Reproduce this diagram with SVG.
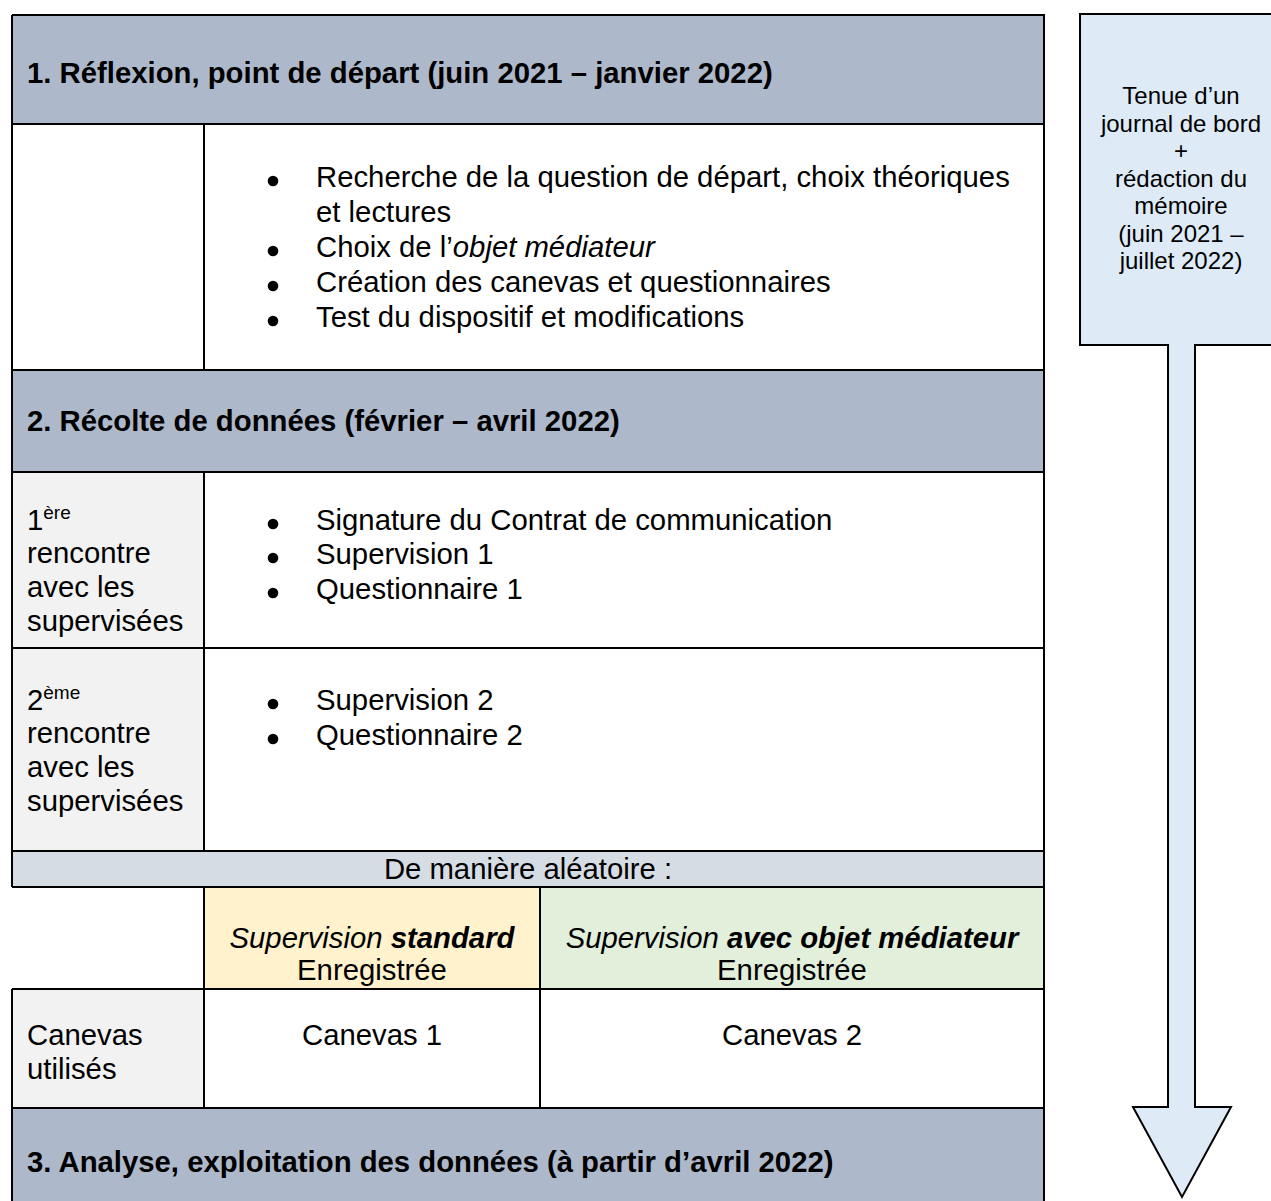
<svg xmlns="http://www.w3.org/2000/svg" width="1271" height="1201" viewBox="0 0 1271 1201">
<style>
text{font-family:"Liberation Sans",Arial,sans-serif;fill:#000}
.h{font-size:29.3px;font-weight:bold}
.b{font-size:29.3px}
.sup{font-size:19px}
.a{font-size:24px;text-anchor:middle}
.c{text-anchor:middle}
.ln{stroke:#000;stroke-width:2;fill:none}
.hdr{fill:#adb9ca}
.gray{fill:#f2f2f2}
.blt{fill:#000}
</style>
<rect width="1271" height="1201" fill="#fff"/>

<g id="timeline-arrow">
<polygon points="1080,14 1283,14 1283,345 1195,345 1195,1107 1231,1107 1182,1197 1133,1107 1168,1107 1168,345 1080,345" fill="#deebf7" stroke="#000" stroke-width="2"/>
<text class="a" x="1181" y="104">Tenue d’un</text>
<text class="a" x="1181" y="131.5">journal de bord</text>
<text class="a" x="1181" y="159">+</text>
<text class="a" x="1181" y="186.5">rédaction du</text>
<text class="a" x="1181" y="214">mémoire</text>
<text class="a" x="1181" y="241.5"> (juin 2021 –</text>
<text class="a" x="1181" y="269">juillet 2022)</text>
</g>

<g id="phase1-header">
<rect class="hdr" x="12" y="15" width="1032" height="109"/>
<text class="h" x="27" y="83">1. Réflexion, point de départ (juin 2021 – janvier 2022)</text>
</g>

<g id="phase1-tasks">
<circle class="blt" cx="273" cy="181" r="5.3"/>
<circle class="blt" cx="273" cy="251" r="5.3"/>
<circle class="blt" cx="273" cy="286" r="5.3"/>
<circle class="blt" cx="273" cy="321" r="5.3"/>
<text class="b" x="316" y="187">Recherche de la question de départ, choix théoriques</text>
<text class="b" x="316" y="222">et lectures</text>
<text class="b" x="316" y="257">Choix de l’<tspan font-style="italic">objet médiateur</tspan></text>
<text class="b" x="316" y="292">Création des canevas et questionnaires</text>
<text class="b" x="316" y="327">Test du dispositif et modifications</text>
</g>

<g id="phase2-header">
<rect class="hdr" x="12" y="370" width="1032" height="102"/>
<text class="h" x="27" y="431">2. Récolte de données (février – avril 2022)</text>
</g>

<g id="meeting1-label">
<rect class="gray" x="12" y="472" width="192" height="176"/>
<text class="b" x="27" y="530">1<tspan class="sup" dy="-11">ère</tspan></text>
<text class="b" x="27" y="563">rencontre</text>
<text class="b" x="27" y="597">avec les</text>
<text class="b" x="27" y="631">supervisées</text>
</g>

<g id="meeting1-tasks">
<circle class="blt" cx="273" cy="524" r="5.3"/>
<circle class="blt" cx="273" cy="558" r="5.3"/>
<circle class="blt" cx="273" cy="593" r="5.3"/>
<text class="b" x="316" y="530">Signature du Contrat de communication</text>
<text class="b" x="316" y="564">Supervision 1</text>
<text class="b" x="316" y="599">Questionnaire 1</text>
</g>

<g id="meeting2-label">
<rect class="gray" x="12" y="648" width="192" height="203"/>
<text class="b" x="27" y="710">2<tspan class="sup" dy="-11">ème</tspan></text>
<text class="b" x="27" y="743">rencontre</text>
<text class="b" x="27" y="777">avec les</text>
<text class="b" x="27" y="811">supervisées</text>
</g>

<g id="meeting2-tasks">
<circle class="blt" cx="273" cy="704" r="5.3"/>
<circle class="blt" cx="273" cy="739" r="5.3"/>
<text class="b" x="316" y="710">Supervision 2</text>
<text class="b" x="316" y="745">Questionnaire 2</text>
</g>

<g id="random-row">
<rect fill="#d6dce4" x="12" y="851" width="1032" height="36"/>
<text class="b c" x="528" y="879">De manière aléatoire :</text>
</g>

<g id="standard-supervision">
<rect fill="#fff2cc" x="204" y="887" width="336" height="102"/>
<text class="b c" x="372" y="948"><tspan font-style="italic">Supervision </tspan><tspan font-style="italic" font-weight="bold">standard</tspan></text>
<text class="b c" x="372" y="980">Enregistrée</text>
</g>

<g id="mediator-supervision">
<rect fill="#e2efda" x="540" y="887" width="504" height="102"/>
<text class="b c" x="792" y="948"><tspan font-style="italic">Supervision </tspan><tspan font-style="italic" font-weight="bold">avec objet médiateur</tspan></text>
<text class="b c" x="792" y="980">Enregistrée</text>
</g>

<g id="canevas-label">
<rect class="gray" x="12" y="989" width="192" height="119"/>
<text class="b" x="27" y="1045">Canevas</text>
<text class="b" x="27" y="1079">utilisés</text>
</g>

<g id="canevas-1">
<text class="b c" x="372" y="1045">Canevas 1</text>
</g>

<g id="canevas-2">
<text class="b c" x="792" y="1045">Canevas 2</text>
</g>

<g id="phase3-header">
<rect class="hdr" x="12" y="1108" width="1032" height="100"/>
<text class="h" x="27" y="1172">3. Analyse, exploitation des données (à partir d’avril 2022)</text>
</g>

<g id="table-borders">
<path class="ln" d="M12,15 H1044 V1210 M12,15 V887 M12,989 V1210 M12,124 H1044 M12,370 H1044 M12,472 H1044 M12,648 H1044 M12,851 H1044 M12,887 H1044 M12,989 H1044 M12,1108 H1044 M204,124 V370 M204,472 V851 M204,887 V1108 M540,887 V1108"/>
</g>
</svg>
